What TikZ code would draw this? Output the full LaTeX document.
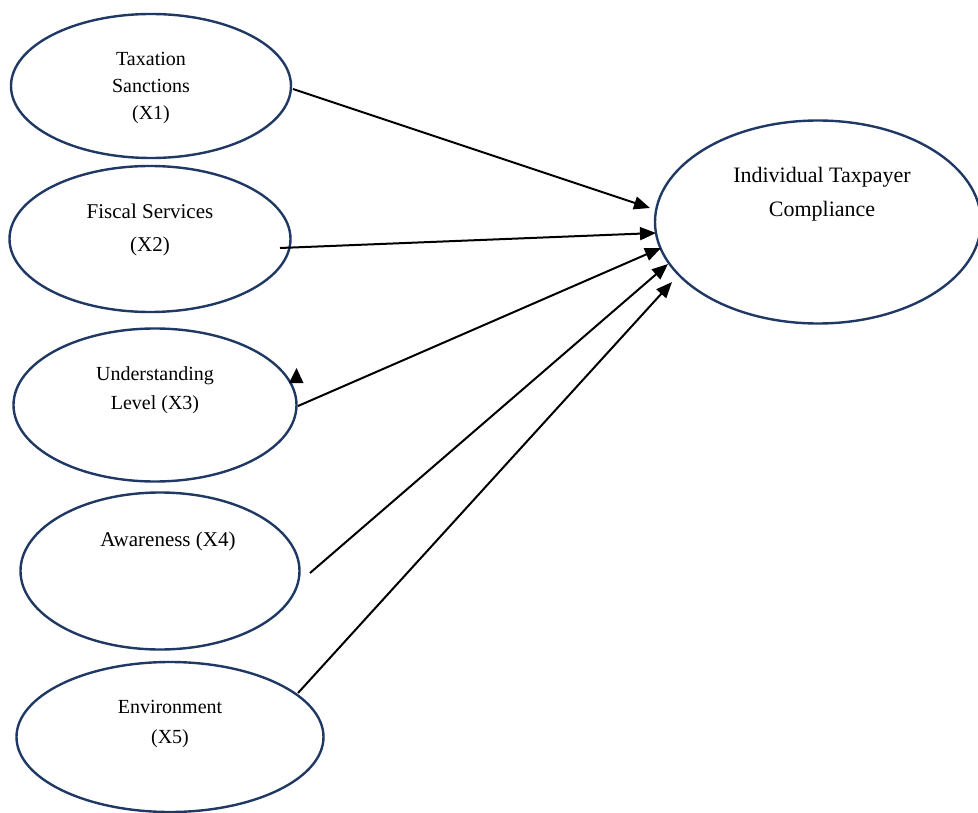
\documentclass[tikz,border=0pt]{standalone}
\usepackage{fontspec}
\setmainfont{Liberation Serif}
\usetikzlibrary{shapes.geometric,arrows.meta}
\definecolor{navy}{RGB}{31,56,100}
\tikzset{
  var/.style={draw=navy, line width=2.4pt, ellipse, inner sep=0pt},
  lbl/.style={align=center, inner sep=0pt, text=black},
  conn/.style={line width=2pt, -{Triangle[length=16pt,width=13pt]}},
}
\begin{document}
\begin{tikzpicture}[x=1pt,y=-1pt]
\useasboundingbox (0,0) rectangle (978,813);
% ellipses
\node[var, minimum width=280pt, minimum height=144pt] (e1) at (151,86) {};
\node[var, minimum width=281pt, minimum height=146pt] (e2) at (150,239) {};
\node[var, minimum width=283pt, minimum height=153pt] (e3) at (155,405) {};
\node[var, minimum width=279pt, minimum height=157pt] (e4) at (160,571) {};
\node[var, minimum width=307pt, minimum height=150pt] (e5) at (170,737) {};
\node[var, minimum width=326pt, minimum height=203pt] (y) at (818,222) {};
% labels
\node[lbl, font=\fontsize{20}{27}\selectfont] (t1) at (151,88) {Taxation\\Sanctions\\(X1)};
\node[lbl, font=\fontsize{21}{33}\selectfont] (t2) at (150,230) {Fiscal Services\\(X2)};
\node[lbl, font=\fontsize{20}{29}\selectfont] (t3) at (155,390) {Understanding\\Level (X3)};
\node[lbl, font=\fontsize{21}{29}\selectfont] (t4) at (168,541) {Awareness (X4)};
\node[lbl, font=\fontsize{20}{30}\selectfont] (t5) at (170,724) {Environment\\(X5)};
\node[lbl, font=\fontsize{22}{34}\selectfont] (ty) at (822,194) {Individual Taxpayer\\Compliance};
% connector end points
\coordinate (s1) at (293,89);  \coordinate (d1) at (650,208);
\coordinate (s2) at (280,248); \coordinate (d2) at (656,233);
\coordinate (s3) at (298,406); \coordinate (d3) at (661,248);
\coordinate (s4) at (310,573); \coordinate (d4) at (668,264);
\coordinate (s5) at (298,693); \coordinate (d5) at (672,282);
\draw[conn] (s1) -- (d1);
\draw[conn] (s2) -- (d2);
\draw[conn] (s3) -- (d3);
\draw[conn] (s4) -- (d4);
\draw[conn] (s5) -- (d5);
% stray arrowhead
\coordinate (h1) at (296.5,368);
\coordinate (h2) at (289,383);
\coordinate (h3) at (303.5,383);
\fill[black] (h1) -- (h2) -- (h3) -- cycle;
\end{tikzpicture}
\end{document}
